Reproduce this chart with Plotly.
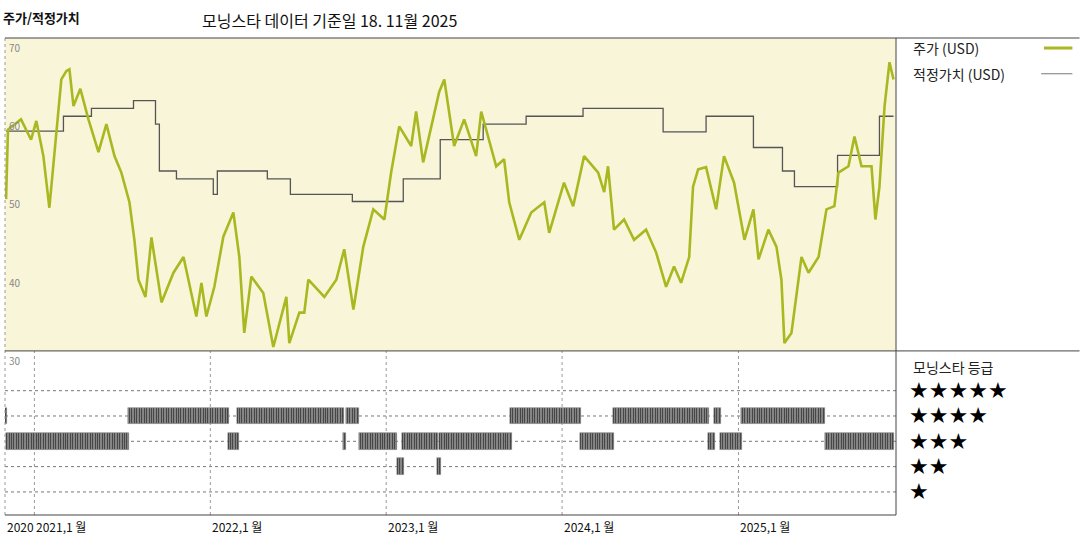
import datetime as dt
import plotly.graph_objects as go

# price: decimal year, value
price_t = [2020.841,2020.852,2020.926,2020.983,2021.011,2021.051,2021.085,2021.114,2021.153,2021.182,2021.199,2021.222,
 2021.261,2021.307,2021.364,2021.409,2021.455,2021.494,2021.540,2021.568,2021.591,2021.631,2021.665,2021.722,2021.790,
 2021.847,2021.920,2021.949,2021.977,2022.023,2022.074,2022.131,2022.165,2022.193,2022.233,2022.301,2022.358,2022.432,
 2022.449,2022.506,2022.534,2022.557,2022.648,2022.716,2022.761,2022.813,2022.869,2022.926,2022.989,2023.028,2023.074,
 2023.142,2023.170,2023.210,2023.301,2023.330,2023.386,2023.443,2023.511,2023.540,2023.625,2023.670,2023.699,2023.756,
 2023.824,2023.898,2023.926,2023.977,2024.011,2024.063,2024.125,2024.205,2024.239,2024.261,2024.295,2024.352,2024.409,
 2024.477,2024.534,2024.591,2024.636,2024.676,2024.722,2024.744,2024.773,2024.818,2024.875,2024.920,2024.977,2025.034,
 2025.085,2025.114,2025.170,2025.216,2025.244,2025.261,2025.301,2025.358,2025.398,2025.455,2025.500,2025.545,2025.568,
 2025.625,2025.659,2025.699,2025.756,2025.778,2025.801,2025.830,2025.858,2025.881]
price_v = [49.4,58.3,59.6,57.0,59.4,54.9,48.3,55.4,64.7,65.8,66.0,61.3,
 63.5,59.6,55.4,59.0,54.9,52.8,49.0,44.2,39.1,36.9,44.5,36.2,40.0,
 42.0,34.4,38.7,34.4,38.2,44.6,47.7,42.0,32.3,39.5,37.4,30.5,36.9,
 31.0,34.9,34.9,39.1,36.9,39.1,43.0,35.3,43.3,48.1,46.8,52.8,58.7,
 56.2,60.6,54.1,63.1,64.7,56.2,59.6,54.9,60.6,53.6,54.5,49.0,44.2,
 47.7,49.0,45.1,49.0,51.5,48.5,54.9,52.8,50.3,53.6,45.5,46.8,44.2,
 45.5,42.6,38.2,40.8,38.7,42.0,51.0,53.2,53.5,48.1,54.9,51.5,44.2,
 48.1,41.7,45.5,43.3,39.1,31.0,32.3,42.0,40.0,42.0,48.1,48.5,52.8,
 53.6,57.4,53.6,53.6,46.8,51.0,61.3,66.9,64.7]

fair_t = [2020.841,2021.165,2021.324,2021.563,2021.688,2021.700,2021.710,2021.807,2022.017,2022.040,2022.324,2022.455,
 2022.807,2023.097,2023.307,2023.551,2023.795,2024.119,2024.574,2024.818,2025.085,2025.250,2025.318,2025.563,2025.801,2025.881]
fair_v = [58.1,60.0,61.0,62.0,59.0,59.0,53.0,52.0,50.0,53.0,52.0,50.0,
 49.1,52.0,57.0,59.0,60.0,61.0,58.0,60.0,56.0,53.0,51.0,55.0,60.0,60.0]

# rating segments: start, end, stars
rate_start = [2020.841,2020.846,2021.534,2022.108,2022.159,2022.756,2022.773,2022.847,2023.068,2023.097,2023.295,2023.307,
 2023.710,2024.108,2024.295,2024.835,2024.869,2024.903,2025.017,2025.494]
rate_end = [2020.846,2021.534,2022.108,2022.159,2022.756,2022.773,2022.847,2023.068,2023.097,2023.295,2023.307,2023.710,
 2024.108,2024.295,2024.835,2024.869,2024.903,2025.017,2025.494,2025.881]
rate_star = [4,3,4,3,4,3,4,3,2,3,2,3,4,3,4,3,4,3,4,3]

year_ticks = [2021, 2022, 2023, 2024, 2025]
tick_text = ["2021,1 월", "2022,1 월", "2023,1 월", "2024,1 월", "2025,1 월"]

def d(t):
    y = int(t)
    return dt.datetime(y, 1, 1) + dt.timedelta(days=(t - y) * 365.25)

bx, by, bb = [], [], []
for s, e, k in zip(rate_start, rate_end, rate_star):
    cur = d(s)
    end = d(e)
    while cur < end:
        bx.append(cur); bb.append(k - 0.33); by.append(0.66)
        cur += dt.timedelta(days=3.5)

FONT = "Noto Sans CJK KR"
fig = go.Figure()
fig.add_trace(go.Scatter(x=[d(t) for t in fair_t], y=fair_v, mode="lines", line=dict(color="#555555", width=1.3, shape="hv"),
                         xaxis="x", yaxis="y"))
fig.add_trace(go.Scatter(x=[d(t) for t in price_t], y=price_v, mode="lines", line=dict(color="#a9b820", width=2.6),
                         xaxis="x", yaxis="y"))
fig.add_trace(go.Bar(x=bx, y=by, base=bb, width=3.5 * 86400000, marker=dict(color="#3a3a3a", line=dict(color="#aaaaaa", width=0.5)),
                     xaxis="x", yaxis="y2"))

x0, x1 = d(2020.835), d(2025.895)
grid = dict(showgrid=False, zeroline=False, showticklabels=False, showline=False, ticks="")
fig.update_layout(
    width=1080, height=540, margin=dict(l=5, r=184, t=38, b=25),
    paper_bgcolor="white", plot_bgcolor="white", showlegend=False, bargap=0,
    font=dict(family=FONT, size=12, color="#222"),
    xaxis=dict(range=[x0, x1], **grid),
    yaxis=dict(range=[30, 70], domain=[0.344, 1], **grid),
    yaxis2=dict(range=[0.09, 6.57], domain=[0, 0.344], **grid),
)
shapes = []
shapes.append(dict(type="rect", xref="x", yref="y", x0=x0, x1=x1, y0=30, y1=70, fillcolor="#f9f5d9", line_width=0, layer="below"))
for v in [40, 50, 60]:
    shapes.append(dict(type="line", xref="paper", yref="y", x0=0, x1=1, y0=v, y1=v, line=dict(color="#555", width=1, dash="dot"), layer="below"))
for k in [1, 2, 3, 4, 5]:
    shapes.append(dict(type="line", xref="paper", yref="y2", x0=0, x1=1, y0=k, y1=k, line=dict(color="#777", width=1, dash="dot"), layer="below"))
for t in year_ticks:
    shapes.append(dict(type="line", xref="x", yref="paper", x0=d(t), x1=d(t), y0=0, y1=1, line=dict(color="#999", width=1, dash="dot"), layer="below"))
shapes.append(dict(type="line", xref="paper", yref="paper", x0=0, x1=0, y0=0, y1=1, line=dict(color="#999", width=1, dash="dot")))
shapes += [
    dict(type="line", xref="paper", yref="paper", x0=0, x1=1.206, y0=1, y1=1, line=dict(color="#444", width=1)),
    dict(type="line", xref="paper", yref="paper", x0=0, x1=1.206, y0=0.344, y1=0.344, line=dict(color="#444", width=1)),
    dict(type="line", xref="paper", yref="paper", x0=0, x1=1, y0=0, y1=0, line=dict(color="#444", width=1)),
    dict(type="line", xref="paper", yref="paper", x0=1, x1=1, y0=0, y1=1, line=dict(color="#444", width=1)),
]
shapes.append(dict(type="line", xref="paper", yref="paper", x0=1.166, x1=1.198, y0=0.979, y1=0.979, line=dict(color="#a9b820", width=3)))
shapes.append(dict(type="line", xref="paper", yref="paper", x0=1.163, x1=1.198, y0=0.925, y1=0.925, line=dict(color="#777", width=1)))
fig.update_layout(shapes=shapes)

ann = []
ann.append(dict(text="<b>주가/적정가치</b>", xref="paper", yref="paper", x=-0.004, y=1.042, xanchor="left", yanchor="middle", showarrow=False, font=dict(size=13, color="#111")))
ann.append(dict(text="모닝스타 데이터 기준일 18. 11월 2025", xref="paper", yref="paper", x=0.219, y=1.038, xanchor="left", yanchor="middle", showarrow=False, font=dict(size=16, color="#111")))
for v in [70, 60, 50, 40]:
    ann.append(dict(text=str(v), xref="paper", yref="y", x=0.002, y=v, xanchor="left", yanchor="top", showarrow=False, font=dict(size=10, color="#888")))
ann.append(dict(text="30", xref="paper", yref="y2", x=0.002, y=6.57, xanchor="left", yanchor="top", showarrow=False, font=dict(size=10, color="#888")))
ann.append(dict(text="2020", xref="paper", yref="paper", x=0.0, y=-0.003, xanchor="left", yanchor="top", showarrow=False, font=dict(size=12, color="#111")))
for t, s in zip(year_ticks, tick_text):
    ann.append(dict(text=s, xref="x", yref="paper", x=d(t), y=-0.003, xanchor="left", yanchor="top", showarrow=False, font=dict(size=12, color="#111")))
ann.append(dict(text="주가 (USD)", xref="paper", yref="paper", x=1.017, y=0.979, xanchor="left", yanchor="middle", showarrow=False, font=dict(size=14, color="#222")))
ann.append(dict(text="적정가치 (USD)", xref="paper", yref="paper", x=1.017, y=0.925, xanchor="left", yanchor="middle", showarrow=False, font=dict(size=14, color="#222")))
ann.append(dict(text="모닝스타 등급", xref="paper", yref="paper", x=1.017, y=0.31, xanchor="left", yanchor="middle", showarrow=False, font=dict(size=14, color="#222")))
for k in [5, 4, 3, 2, 1]:
    ann.append(dict(text="★" * k, xref="paper", yref="y2", x=1.012, y=k, xanchor="left", yanchor="middle", showarrow=False, font=dict(size=22, color="#000", family="DejaVu Sans")))
fig.update_layout(annotations=ann)
fig.write_html("out.html", config={"displayModeBar": False},
               post_script="document.body.style.margin='0';document.body.style.overflow='hidden';")
